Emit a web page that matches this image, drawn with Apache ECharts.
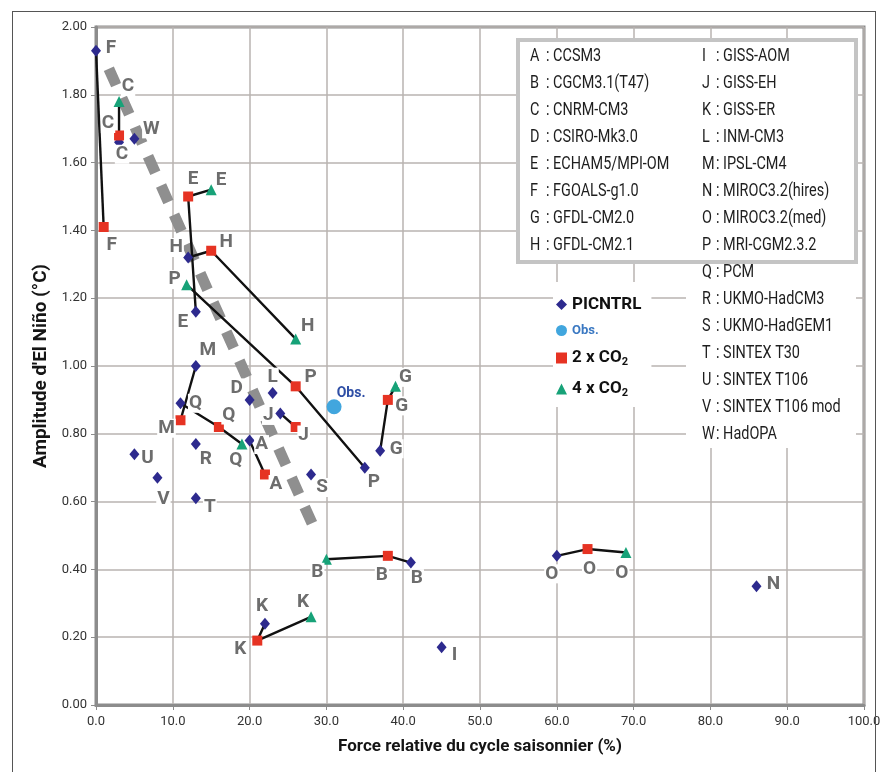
<!DOCTYPE html>
<html><head><meta charset="utf-8">
<script src="https://cdn.jsdelivr.net/npm/echarts/dist/echarts.min.js"></script>
<style>html,body{margin:0;padding:0;background:#fff}#c{width:885px;height:772px}</style>
</head><body><div id="c"></div>
<script>
// ---------- DATA ----------
const xTickStep = 10;
const yTickStep = 0.2;

const picLetters = ['A','B','C','D','E','F','G','H','I','J','K','L','M','N','O','P','Q','R','S','T','U','V','W'];
const picX = [20, 41, 3, 20, 13, 0, 37, 12, 45, 24, 22, 23, 13, 86, 60, 35, 11, 13, 28, 13, 5, 8, 5];
const picY = [0.78, 0.42, 1.66, 0.90, 1.16, 1.93, 0.75, 1.32, 0.17, 0.86, 0.24, 0.92, 1.00, 0.35, 0.44, 0.70, 0.89, 0.77, 0.68, 0.61, 0.74, 0.67, 1.67];

const x2Letters = ['A','B','C','E','F','G','H','J','K','M','O','P','Q'];
const x2X = [22, 38, 3, 12, 1, 38, 15, 26, 21, 11, 64, 26, 16];
const x2Y = [0.68, 0.44, 1.68, 1.50, 1.41, 0.90, 1.34, 0.82, 0.19, 0.84, 0.46, 0.94, 0.82];

const x4Letters = ['B','C','E','G','H','K','O','P','Q'];
const x4X = [30, 3, 15, 39, 26, 28, 69, 11.8, 19];
const x4Y = [0.43, 1.78, 1.52, 0.94, 1.08, 0.26, 0.45, 1.24, 0.77];

const obsX = [31];
const obsY = [0.88];

// thick grey dashed guide line (two end points)
const guideX = [1.67, 28.3];
const guideY = [1.877, 0.527];

const modelCodes = ['A','B','C','D','E','F','G','H','I','J','K','L','M','N','O','P','Q','R','S','T','U','V','W'];
const modelNames = ['CCSM3','CGCM3.1(T47)','CNRM-CM3','CSIRO-Mk3.0','ECHAM5/MPI-OM','FGOALS-g1.0','GFDL-CM2.0','GFDL-CM2.1',
  'GISS-AOM','GISS-EH','GISS-ER','INM-CM3','IPSL-CM4','MIROC3.2(hires)','MIROC3.2(med)','MRI-CGM2.3.2','PCM',
  'UKMO-HadCM3','UKMO-HadGEM1','SINTEX T30','SINTEX T106','SINTEX T106 mod','HadOPA'];

// ---------- LAYOUT (label offsets, px) ----------
const picLabelOffset = {A:[12,4],B:[6,16],C:[3,12],D:[-13,-12],E:[-13,10],F:[15,-2],G:[16,-2],H:[-12,-10],I:[13,8],J:[-12,2],K:[-3,-17],L:[0,-16],M:[12,-16],N:[17,-2],O:[-5,18],P:[9,15],Q:[15,0],R:[10,15],S:[11,13],T:[14,9],U:[13,4],V:[6,21],W:[17,-10]};
const x2LabelOffset = {A:[11,10],B:[-6,19],C:[-11,-12],E:[5,-17],F:[8,18],G:[14,6],H:[15,-8],J:[8,8],K:[-17,9],M:[-14,8],O:[2,20],P:[15,-9],Q:[10,-12]};
const x4LabelOffset = {B:[-9,13],C:[9,-15],E:[10,-9],G:[10,-9],H:[12,-13],K:[-8,-15],O:[-4,21],P:[-12,-5],Q:[-6,16]};

const FONT = "Roboto, 'Liberation Sans', sans-serif";
const C_PIC = '#2d2a8e', C_X2 = '#e63323', C_X4 = '#17a278', C_OBS = '#41a6de', C_LBL = '#6d6d6d';

function pts(letters, xs, ys, offs) {
  return letters.map((l, i) => ({
    name: l, value: [xs[i], ys[i]],
    label: { offset: offs[l] }
  }));
}
const labelBase = {
  show: true, position: 'inside', formatter: '{b}',
  fontFamily: FONT, fontWeight: 'bold', fontSize: 19, color: C_LBL,
  backgroundColor: '#fff', padding: [0, 1]
};

// connecting polylines (PICNTRL - 2xCO2 - 4xCO2) per model
const lineSeries = [];
modelCodes.forEach(m => {
  const seq = [];
  const a = picLetters.indexOf(m), b = x2Letters.indexOf(m), c = x4Letters.indexOf(m);
  if (a >= 0) seq.push([picX[a], picY[a]]);
  if (b >= 0) seq.push([x2X[b], x2Y[b]]);
  if (c >= 0) seq.push([x4X[c], x4Y[c]]);
  if (seq.length > 1 && b >= 0) {
    lineSeries.push({
      type: 'line', name: 'link-' + m, data: seq, symbol: 'none', silent: true,
      lineStyle: { color: '#111', width: 2.4 }, z: 3, animation: false
    });
  }
});

const chart = echarts.init(document.getElementById('c'), null, { renderer: 'canvas' });

// legend box graphics
const gfx = [
  { type: 'rect', shape: { x: 686, y: 258, width: 170, height: 190 }, style: { fill: '#fff' }, z: 10, silent: true },
  { type: 'rect', shape: { x: 518, y: 40, width: 338, height: 222 }, style: { fill: '#fff', stroke: '#c4c4c4', lineWidth: 4 }, z: 10, silent: true }
];
const TXT_FONT = '19px ' + FONT;
const SX = 0.76;
modelCodes.forEach((code, i) => {
  const col = i < 8 ? 0 : 1;
  const row = i < 8 ? i : i - 8;
  const lx = col === 0 ? 530 : 702;
  const cx = col === 0 ? 546 : 716;
  const y = 56 + row * 27;
  gfx.push({ type: 'text', z: 11, silent: true, x: lx, y: y, scaleX: SX,
    style: { x: 0, y: 0, text: code, font: TXT_FONT, fill: '#1e1e1e', verticalAlign: 'middle' } });
  gfx.push({ type: 'text', z: 11, silent: true, x: cx, y: y, scaleX: SX,
    style: { x: 0, y: 0, text: ': ' + modelNames[i], font: TXT_FONT, fill: '#1e1e1e', verticalAlign: 'middle' } });
});

chart.setOption({
  animation: false,
  backgroundColor: '#fff',
  grid: { left: 96, right: 21, top: 27, bottom: 67, show: true, borderColor: '#8c8c8c', borderWidth: 3 },
  xAxis: {
    type: 'value', min: 0, max: 100, interval: xTickStep,
    name: 'Force relative du cycle saisonnier (%)', nameLocation: 'middle', nameGap: 33,
    nameTextStyle: { fontFamily: FONT, fontWeight: 'bold', fontSize: 17, color: '#151515' },
    axisLine: { lineStyle: { color: '#8c8c8c', width: 3 } },
    axisTick: { show: true, length: 5, lineStyle: { color: '#8c8c8c' } },
    axisLabel: { margin: 10, fontFamily: FONT, fontSize: 13, color: '#333', formatter: v => v.toFixed(1) },
    splitLine: { lineStyle: { color: '#b9b3b1', width: 1.5 } }
  },
  yAxis: {
    type: 'value', min: 0, max: 2, interval: yTickStep,
    name: "Amplitude d'El Niño (°C)", nameLocation: 'middle', nameGap: 44,
    nameTextStyle: { fontFamily: FONT, fontWeight: 'bold', fontSize: 19, color: '#151515' },
    axisLine: { show: true, lineStyle: { color: '#8c8c8c', width: 3 } },
    axisTick: { show: true, length: 5, lineStyle: { color: '#8c8c8c' } },
    axisLabel: { margin: 9, fontFamily: FONT, fontSize: 13, color: '#333', formatter: v => v.toFixed(2) },
    splitLine: { lineStyle: { color: '#b9b3b1', width: 1.5 } }
  },
  legend: {
    orient: 'vertical', left: 553, top: 282, selectedMode: false,
    backgroundColor: '#fff', padding: [14, 10, 8, 3],
    itemWidth: 11, itemHeight: 11, itemGap: 11,
    data: [
      { name: 'PICNTRL', icon: 'diamond' },
      { name: 'Obs.', icon: 'circle' },
      { name: '2 x CO2', icon: 'rect' },
      { name: '4 x CO2', icon: 'triangle' }
    ],
    formatter: n => {
      if (n === 'PICNTRL') return '{p|PICNTRL}';
      if (n === 'Obs.') return '{o|Obs.}';
      if (n === '2 x CO2') return '{c|2 x CO}{s|2}';
      return '{c|4 x CO}{s|2}';
    },
    textStyle: {
      rich: {
        p: { fontFamily: FONT, fontWeight: 'bold', fontSize: 17, color: '#111', lineHeight: 20 },
        o: { fontFamily: FONT, fontWeight: 'bold', fontSize: 13, color: '#3a78c2', lineHeight: 20 },
        c: { fontFamily: FONT, fontWeight: 'bold', fontSize: 17, color: '#111', lineHeight: 20 },
        s: { fontFamily: FONT, fontWeight: 'bold', fontSize: 11, color: '#111', lineHeight: 20, padding: [9, 0, 0, 0] }
      }
    }
  },
  graphic: gfx,
  series: [
    {
      type: 'line', name: 'guide', data: guideX.map((x, i) => [x, guideY[i]]), symbol: 'none', silent: true,
      lineStyle: { color: '#8f8f8f', width: 11, type: [18, 14], cap: 'butt' }, z: 1
    },
    ...lineSeries,
    {
      type: 'scatter', name: 'PICNTRL', symbol: 'diamond', symbolSize: [10, 12],
      itemStyle: { color: C_PIC, opacity: 1 }, label: labelBase,
      data: pts(picLetters, picX, picY, picLabelOffset), z: 5
    },
    {
      type: 'scatter', name: '2 x CO2', symbol: 'rect', symbolSize: 10,
      itemStyle: { color: C_X2, opacity: 1 }, label: labelBase,
      data: pts(x2Letters, x2X, x2Y, x2LabelOffset), z: 6
    },
    {
      type: 'scatter', name: '4 x CO2', symbol: 'triangle', symbolSize: 11,
      itemStyle: { color: C_X4, opacity: 1 }, label: labelBase,
      data: pts(x4Letters, x4X, x4Y, x4LabelOffset), z: 6
    },
    {
      type: 'scatter', name: 'Obs.', symbol: 'circle', symbolSize: 15,
      itemStyle: { color: C_OBS, opacity: 1 },
      label: { show: true, position: 'inside', offset: [17, -13], formatter: 'Obs.', fontFamily: FONT, fontWeight: 'bold', fontSize: 14, color: '#2f4fa6' },
      data: obsX.map((x, i) => [x, obsY[i]]), z: 6
    }
  ]
});
</script>
<div style="position:absolute;left:12px;top:11px;width:864px;height:800px;border:1.5px solid #555;pointer-events:none;box-sizing:border-box"></div>
</body></html>
